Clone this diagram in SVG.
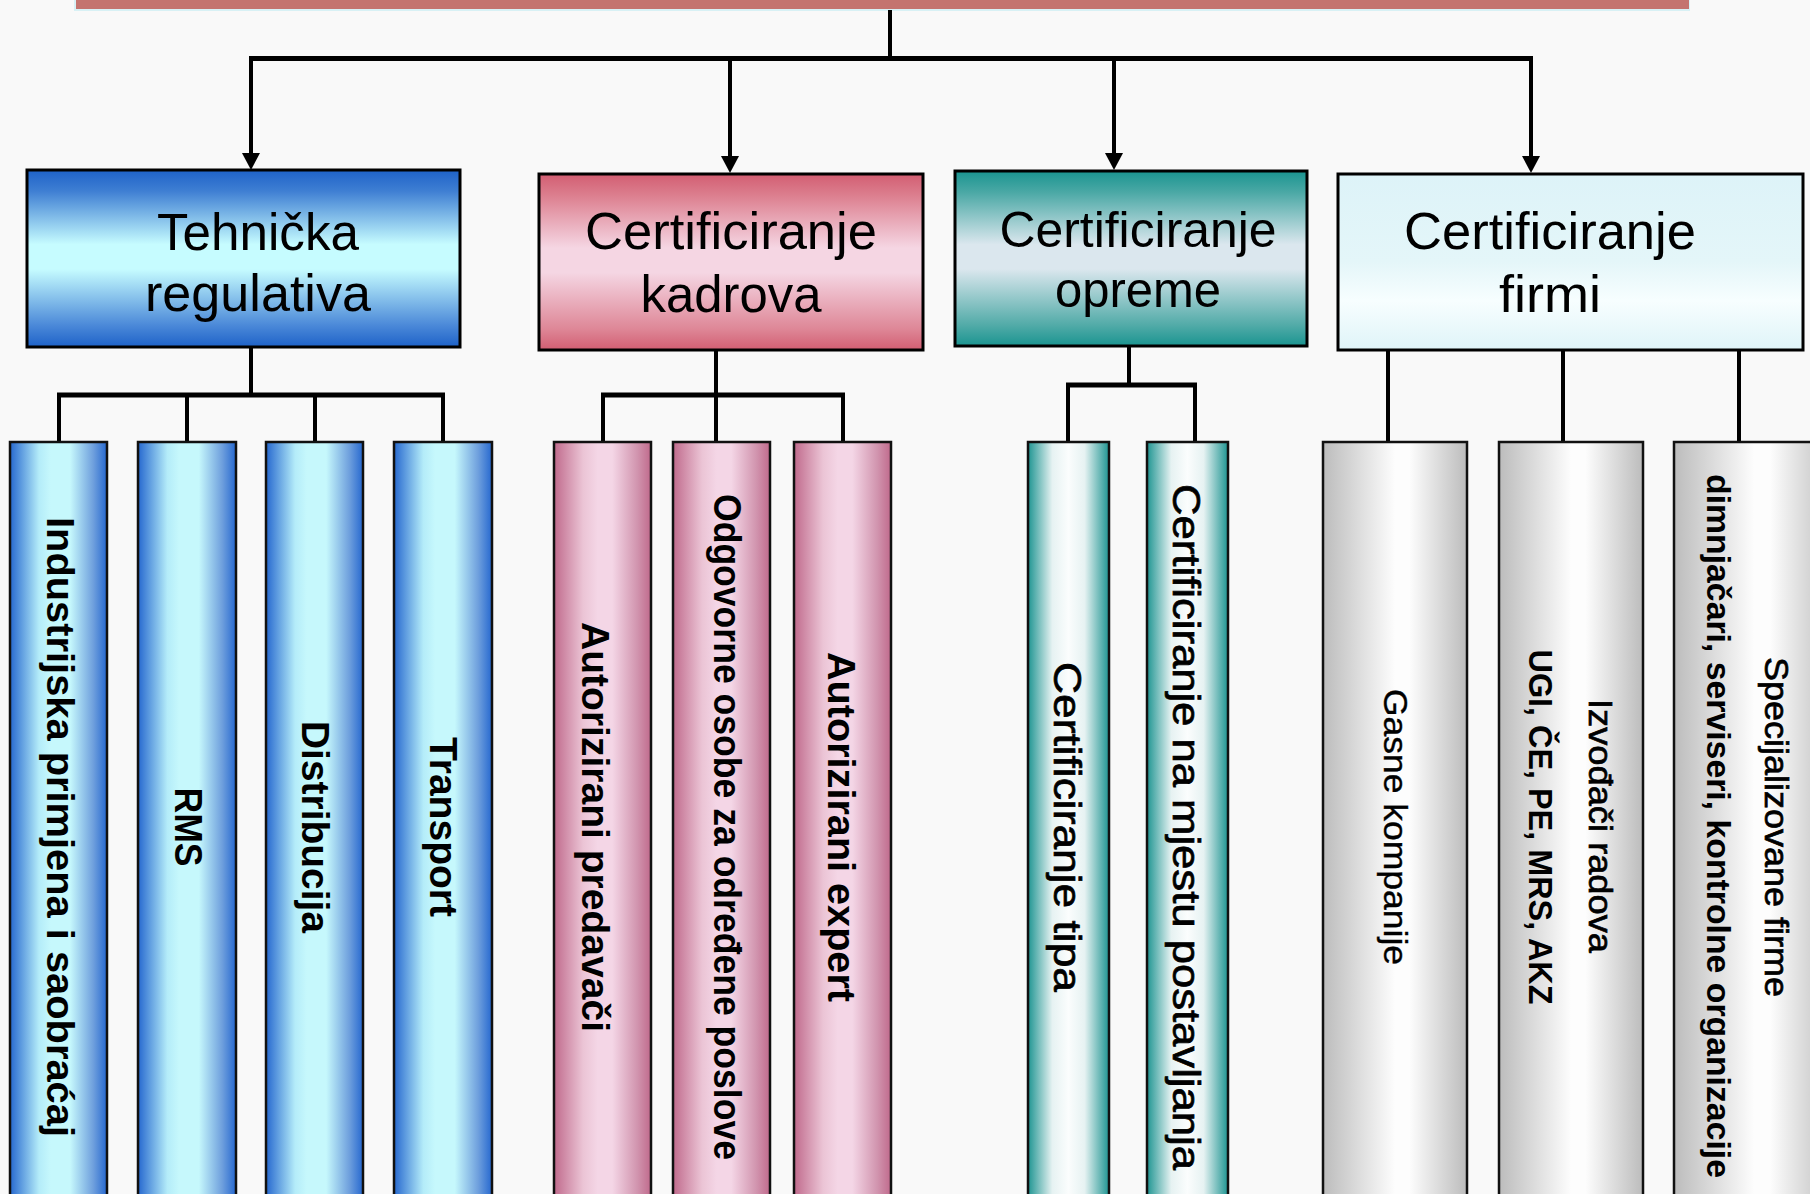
<svg xmlns="http://www.w3.org/2000/svg" width="1810" height="1194" viewBox="0 0 1810 1194">
<defs>
<linearGradient id="gBlueV" x1="0" y1="0" x2="0" y2="1">
<stop offset="0" stop-color="#1e62c8"/><stop offset="0.12" stop-color="#3f7fd3"/><stop offset="0.42" stop-color="#c6fcff"/><stop offset="0.56" stop-color="#c6fcff"/><stop offset="0.88" stop-color="#4a88d8"/><stop offset="1" stop-color="#1e62c8"/>
</linearGradient>
<linearGradient id="gPinkV" x1="0" y1="0" x2="0" y2="1">
<stop offset="0" stop-color="#d25e72"/><stop offset="0.12" stop-color="#dc7e8e"/><stop offset="0.42" stop-color="#f5d6e3"/><stop offset="0.56" stop-color="#f5d6e3"/><stop offset="0.88" stop-color="#de8797"/><stop offset="1" stop-color="#d25e72"/>
</linearGradient>
<linearGradient id="gTealV" x1="0" y1="0" x2="0" y2="1">
<stop offset="0" stop-color="#1a9490"/><stop offset="0.12" stop-color="#4aa8a5"/><stop offset="0.42" stop-color="#dbe7ee"/><stop offset="0.56" stop-color="#dbe7ee"/><stop offset="0.88" stop-color="#52aba8"/><stop offset="1" stop-color="#1a9490"/>
</linearGradient>
<linearGradient id="gCyanV" x1="0" y1="0" x2="0" y2="1">
<stop offset="0" stop-color="#ddf3f8"/><stop offset="0.5" stop-color="#e4f6f9"/><stop offset="0.72" stop-color="#f7feff"/><stop offset="1" stop-color="#dff4f8"/>
</linearGradient>
<linearGradient id="gBlueH" x1="0" y1="0" x2="1" y2="0">
<stop offset="0" stop-color="#2668cf"/><stop offset="0.3" stop-color="#b4ecf9"/><stop offset="0.42" stop-color="#c6f8fc"/><stop offset="0.62" stop-color="#c6f8fc"/><stop offset="0.86" stop-color="#6e9fdd"/><stop offset="1" stop-color="#2668cf"/>
</linearGradient>
<linearGradient id="gPinkH" x1="0" y1="0" x2="1" y2="0">
<stop offset="0" stop-color="#c06a8c"/><stop offset="0.3" stop-color="#ebc4d5"/><stop offset="0.45" stop-color="#f4d6e6"/><stop offset="0.6" stop-color="#f4d6e6"/><stop offset="0.86" stop-color="#d194ae"/><stop offset="1" stop-color="#c06a8c"/>
</linearGradient>
<linearGradient id="gTealH" x1="0" y1="0" x2="1" y2="0">
<stop offset="0" stop-color="#1f9592"/><stop offset="0.3" stop-color="#e6f2f2"/><stop offset="0.5" stop-color="#fbfdfd"/><stop offset="0.7" stop-color="#e6f2f2"/><stop offset="1" stop-color="#1f9592"/>
</linearGradient>
<linearGradient id="gGrayH" x1="0" y1="0" x2="1" y2="0">
<stop offset="0" stop-color="#bcbcbc"/><stop offset="0.5" stop-color="#fdfdfd"/><stop offset="0.6" stop-color="#fdfdfd"/><stop offset="1" stop-color="#bcbcbc"/>
</linearGradient>
<marker id="arr" viewBox="0 0 17 18" refX="0" refY="9" markerWidth="17" markerHeight="18" markerUnits="userSpaceOnUse" orient="auto">
<path d="M0,0 L17,9 L0,18 z" fill="#000"/>
</marker>
</defs>
<style>
.cat{stroke:#000;stroke-width:3}
.leaf{stroke:#111;stroke-width:2.5}
.title{font-family:"Liberation Sans",Arial,sans-serif;font-size:52px;fill:#000;text-anchor:middle}
.lt{font-family:"Liberation Sans",Arial,sans-serif;font-size:39px;font-weight:bold;fill:#000;text-anchor:middle}
.lr{font-family:"Liberation Sans",Arial,sans-serif;font-size:34px;fill:#000;stroke:#000;stroke-width:0.35;text-anchor:middle}
.ls{font-family:"Liberation Sans",Arial,sans-serif;font-size:34px;fill:#000;stroke:#000;stroke-width:0.7;text-anchor:middle}
.lb{font-family:"Liberation Sans",Arial,sans-serif;font-size:34px;font-weight:bold;fill:#000;text-anchor:middle}
.h{stroke:#000;stroke-width:5;fill:none}
.v{stroke:#000;stroke-width:4;fill:none}
</style>
<rect x="0" y="0" width="1810" height="1194" fill="#f9f9f9"/>

<g id="top">
<rect x="74" y="-2" width="1616" height="13" fill="#d8f1f5"/>
<rect x="76" y="-2" width="1613" height="11" fill="#c4746f"/>
</g>

<g id="connectors">
<path class="v" d="M890,10 V58"/>
<path class="h" d="M249,58.5 H1533"/>
<path class="v" d="M251,58 V153" marker-end="url(#arr)"/>
<path class="v" d="M730,58 V156" marker-end="url(#arr)"/>
<path class="v" d="M1114,58 V153" marker-end="url(#arr)"/>
<path class="v" d="M1531,58 V156" marker-end="url(#arr)"/>

<path class="v" d="M251,347 V395"/>
<path class="h" d="M57,395 H445"/>
<path class="v" d="M59,395 V442 M187,395 V442 M315,395 V442 M443,395 V442"/>

<path class="v" d="M716,350 V395"/>
<path class="h" d="M601,395 H845"/>
<path class="v" d="M603,395 V442 M716,395 V442 M843,395 V442"/>

<path class="v" d="M1129,346 V385"/>
<path class="h" d="M1066,385 H1197"/>
<path class="v" d="M1068,385 V442 M1195,385 V442"/>

<path class="v" d="M1388,350 V442 M1563,350 V442 M1739,350 V442"/>
</g>

<g id="tehnicka">
<rect class="cat" x="27" y="170" width="433" height="177" fill="url(#gBlueV)"/>
<text class="title" x="258" y="250" textLength="202" lengthAdjust="spacingAndGlyphs">Tehnička</text>
<text class="title" x="258" y="311" textLength="226" lengthAdjust="spacingAndGlyphs">regulativa</text>
</g>
<g id="kadrova">
<rect class="cat" x="539" y="174" width="384" height="176" fill="url(#gPinkV)"/>
<text class="title" x="731" y="249" textLength="292" lengthAdjust="spacingAndGlyphs">Certificiranje</text>
<text class="title" x="731" y="312" textLength="181" lengthAdjust="spacingAndGlyphs">kadrova</text>
</g>
<g id="opreme">
<rect class="cat" x="955" y="171" width="352" height="175" fill="url(#gTealV)"/>
<text class="title" x="1138" y="247" style="font-size:50px" textLength="277" lengthAdjust="spacingAndGlyphs">Certificiranje</text>
<text class="title" x="1138" y="307" style="font-size:50px" textLength="166" lengthAdjust="spacingAndGlyphs">opreme</text>
</g>
<g id="firmi">
<rect class="cat" x="1338" y="174" width="465" height="176" fill="url(#gCyanV)"/>
<text class="title" x="1550" y="249" textLength="292" lengthAdjust="spacingAndGlyphs">Certificiranje</text>
<text class="title" x="1550" y="312" textLength="102" lengthAdjust="spacingAndGlyphs">firmi</text>
</g>

<g id="industrijska">
<rect class="leaf" x="10" y="442" width="97" height="780" fill="url(#gBlueH)"/>
<text class="lt" transform="translate(47,827) rotate(90)" textLength="620" lengthAdjust="spacingAndGlyphs">Industrijska primjena i saobraćaj</text>
</g>
<g id="rms">
<rect class="leaf" x="138" y="442" width="98" height="780" fill="url(#gBlueH)"/>
<text class="lt" transform="translate(175,827) rotate(90)" textLength="79" lengthAdjust="spacingAndGlyphs">RMS</text>
</g>
<g id="distribucija">
<rect class="leaf" x="266" y="442" width="97" height="780" fill="url(#gBlueH)"/>
<text class="lt" transform="translate(302,827) rotate(90)" textLength="212" lengthAdjust="spacingAndGlyphs">Distribucija</text>
</g>
<g id="transport">
<rect class="leaf" x="394" y="442" width="98" height="780" fill="url(#gBlueH)"/>
<text class="lt" transform="translate(430,827) rotate(90)" textLength="180" lengthAdjust="spacingAndGlyphs">Transport</text>
</g>

<g id="predavaci">
<rect class="leaf" x="554" y="442" width="97" height="780" fill="url(#gPinkH)"/>
<text class="lt" transform="translate(582,827) rotate(90)" textLength="410" lengthAdjust="spacingAndGlyphs">Autorizirani predavači</text>
</g>
<g id="odgovorne">
<rect class="leaf" x="673" y="442" width="97" height="780" fill="url(#gPinkH)"/>
<text class="lt" transform="translate(714,827) rotate(90)" textLength="666" lengthAdjust="spacingAndGlyphs">Odgovorne osobe za određene poslove</text>
</g>
<g id="expert">
<rect class="leaf" x="794" y="442" width="97" height="780" fill="url(#gPinkH)"/>
<text class="lt" transform="translate(828,827) rotate(90)" textLength="350" lengthAdjust="spacingAndGlyphs">Autorizirani expert</text>
</g>

<g id="tipa">
<rect class="leaf" x="1028" y="442" width="81" height="780" fill="url(#gTealH)"/>
<text class="ls" style="font-size:38px" transform="translate(1054,827) rotate(90)" textLength="330" lengthAdjust="spacingAndGlyphs">Certificiranje tipa</text>
</g>
<g id="mjestu">
<rect class="leaf" x="1147" y="442" width="81" height="780" fill="url(#gTealH)"/>
<text class="ls" style="font-size:38px" transform="translate(1173,827) rotate(90)" textLength="686" lengthAdjust="spacingAndGlyphs">Certificiranje na mjestu postavljanja</text>
</g>

<g id="gasne">
<rect class="leaf" x="1323" y="442" width="144" height="780" fill="url(#gGrayH)"/>
<text class="lr" transform="translate(1384,827) rotate(90)" textLength="276" lengthAdjust="spacingAndGlyphs">Gasne kompanije</text>
</g>
<g id="izvodjaci">
<rect class="leaf" x="1499" y="442" width="144" height="780" fill="url(#gGrayH)"/>
<text class="ls" transform="translate(1589,826) rotate(90)" textLength="254" lengthAdjust="spacingAndGlyphs">Izvođači radova</text>
<text class="lb" transform="translate(1529,827) rotate(90)" textLength="355" lengthAdjust="spacingAndGlyphs">UGI, ČE, PE, MRS, AKZ</text>
</g>
<g id="specijalizovane">
<rect class="leaf" x="1674" y="442" width="160" height="780" fill="url(#gGrayH)"/>
<text class="ls" transform="translate(1765,827) rotate(90)" textLength="340" lengthAdjust="spacingAndGlyphs">Specijalizovane firme</text>
<text class="lb" transform="translate(1707,826) rotate(90)" textLength="704" lengthAdjust="spacingAndGlyphs">dimnjačari, serviseri, kontrolne organizacije</text>
</g>
</svg>
